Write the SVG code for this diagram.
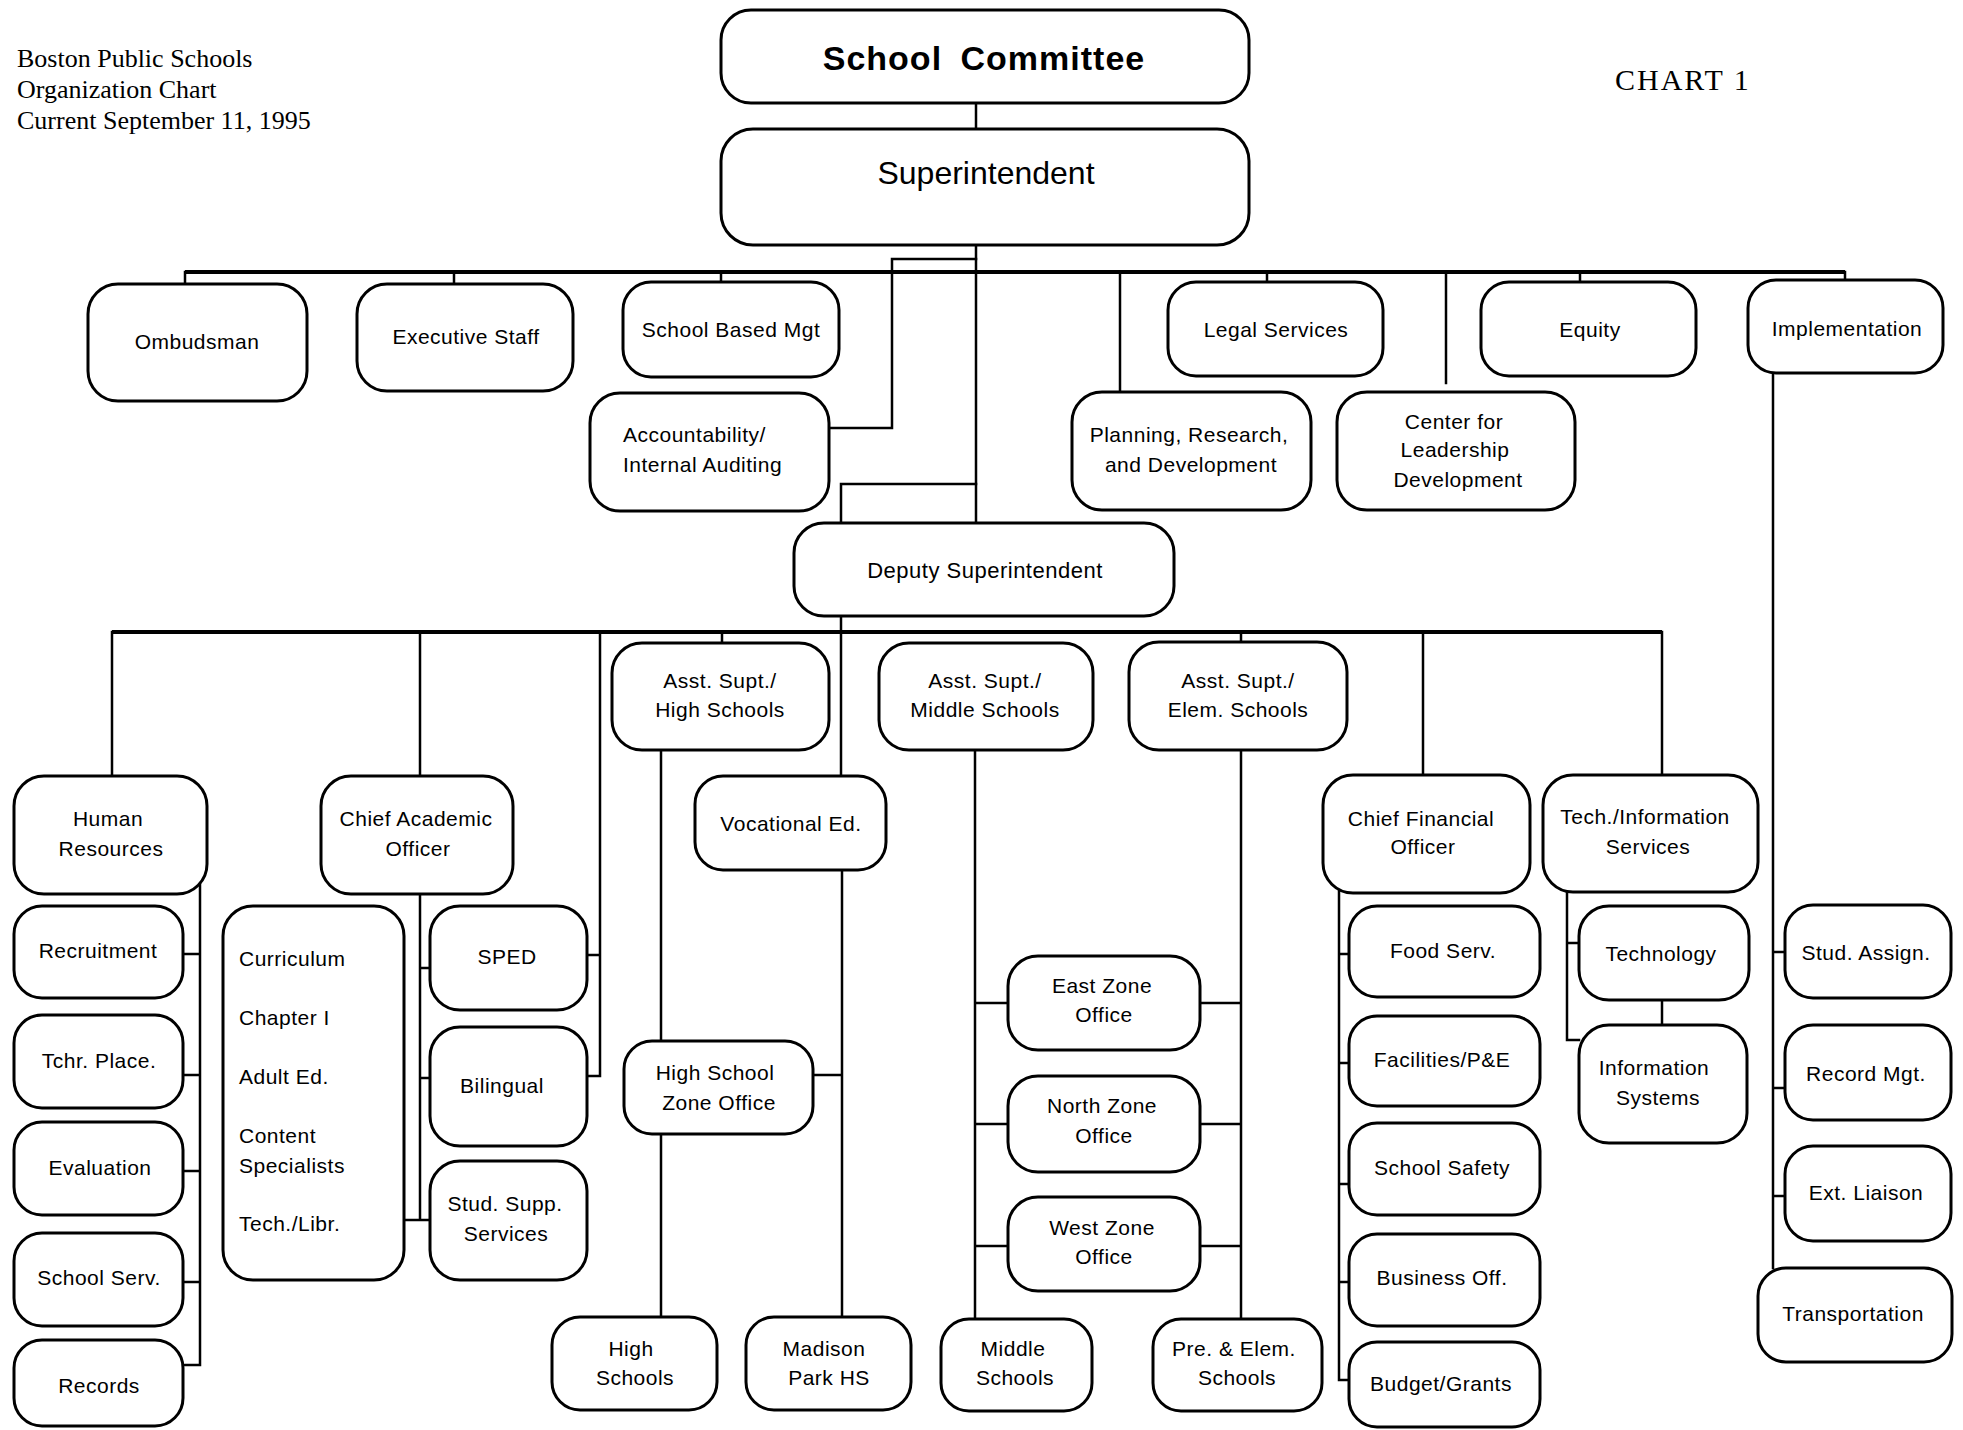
<svg xmlns="http://www.w3.org/2000/svg" width="1963" height="1430" viewBox="0 0 1963 1430">
  <style>
    .box { fill: #fff; stroke: #000; stroke-width: 3; }
    .ln { stroke: #000; stroke-width: 2.5; fill: none; stroke-linecap: square; }
    .bus { stroke: #000; stroke-width: 4; fill: none; }
    .t { font-family: "Liberation Sans", Arial, sans-serif; font-size: 21px; letter-spacing: 0.5px; text-anchor: middle; fill: #000; }
    .tl { font-family: "Liberation Sans", Arial, sans-serif; font-size: 21px; letter-spacing: 0.5px; text-anchor: start; fill: #000; }
    .hdr { font-family: "Liberation Serif", "Times New Roman", serif; font-size: 26px; fill: #000; }
  </style>
  <rect x="0" y="0" width="1963" height="1430" fill="#fff"/>

  <!-- title block -->
  <g id="title">
    <text class="hdr" x="17" y="67">Boston Public Schools</text>
    <text class="hdr" x="17" y="98">Organization Chart</text>
    <text class="hdr" x="17" y="129">Current September 11, 1995</text>
    <text class="hdr" x="1615" y="90" style="font-size:30px;letter-spacing:2px">CHART 1</text>
  </g>

  <!-- connectors -->
  <g id="connectors">
    <!-- top level -->
    <path class="ln" d="M976 103 V129"/>
    <path class="ln" d="M976 245 V523"/>
    <path class="ln" d="M976 259 H892 V428 H829"/>
    <path class="bus" d="M185 272 H1845"/>
    <path class="ln" d="M185 272 V284 M454 272 V284 M721 272 V282 M1267 272 V282 M1580 272 V282 M1845 272 V280"/>
    <path class="ln" d="M1120 272 V392"/>
    <path class="ln" d="M1446 272 V383"/>
    <path class="ln" d="M976 484 H841 V523"/>
    <!-- deputy level -->
    <path class="ln" d="M841 616 V776"/>
    <path class="bus" d="M112 632 H1662"/>
    <path class="ln" d="M112 632 V776 M420 632 V776 M722 632 V643 M1241 632 V642 M1423 632 V775 M1662 632 V775"/>
    <path class="ln" d="M600 632 V1076 H587 M600 955 H587"/>
    <!-- human resources -->
    <path class="ln" d="M200 884 V1365 H183 M183 954 H200 M183 1075 H200 M183 1171 H200 M183 1282 H200"/>
    <!-- chief academic officer -->
    <path class="ln" d="M420 894 V1220 M420 968 H430 M420 1078 H430 M404 1220 H430"/>
    <!-- high schools -->
    <path class="ln" d="M661 750 V1041 M661 1134 V1317"/>
    <path class="ln" d="M842 870 V1317 M813 1075 H842"/>
    <!-- middle schools -->
    <path class="ln" d="M975 750 V1319 M975 1003 H1008 M975 1124 H1008 M975 1246 H1008"/>
    <!-- elementary schools -->
    <path class="ln" d="M1241 750 V1319 M1200 1003 H1241 M1200 1124 H1241 M1200 1246 H1241"/>
    <!-- chief financial officer -->
    <path class="ln" d="M1339 888 V1380 H1349 M1339 954 H1349 M1339 1063 H1349 M1339 1184 H1349 M1339 1282 H1349"/>
    <!-- tech / information services -->
    <path class="ln" d="M1567 888 V1040 H1579 M1567 943 H1579"/>
    <path class="ln" d="M1662 1000 V1025"/>
    <!-- implementation -->
    <path class="ln" d="M1773 373 V1268 M1773 952 H1785 M1773 1088 H1785 M1773 1196 H1785"/>
  </g>

  <!-- top level -->
  <g id="school-committee">
    <rect class="box" x="721" y="10" width="528" height="93" rx="30"/>
    <text x="984" y="70" style="font-family:'Liberation Sans',Arial,sans-serif;font-size:34px;font-weight:bold;letter-spacing:1px;word-spacing:8px;text-anchor:middle">School Committee</text>
  </g>
  <g id="superintendent">
    <rect class="box" x="721" y="129" width="528" height="116" rx="32"/>
    <text class="t" x="986" y="184" style="font-size:32px;letter-spacing:0">Superintendent</text>
  </g>
  <g id="ombudsman">
    <rect class="box" x="88" y="284" width="219" height="117" rx="30"/>
    <text class="t" x="197" y="349">Ombudsman</text>
  </g>
  <g id="executive-staff">
    <rect class="box" x="357" y="284" width="216" height="107" rx="30"/>
    <text class="t" x="466" y="344">Executive Staff</text>
  </g>
  <g id="school-based-mgt">
    <rect class="box" x="623" y="282" width="216" height="95" rx="28"/>
    <text class="t" x="731" y="337">School Based Mgt</text>
  </g>
  <g id="legal-services">
    <rect class="box" x="1168" y="282" width="215" height="94" rx="28"/>
    <text class="t" x="1276" y="337">Legal Services</text>
  </g>
  <g id="equity">
    <rect class="box" x="1481" y="282" width="215" height="94" rx="28"/>
    <text class="t" x="1590" y="337">Equity</text>
  </g>
  <g id="implementation">
    <rect class="box" x="1748" y="280" width="195" height="93" rx="28"/>
    <text class="t" x="1847" y="336">Implementation</text>
  </g>
  <g id="accountability">
    <rect class="box" x="590" y="393" width="239" height="118" rx="30"/>
    <text class="tl" x="623" y="442">Accountability/</text>
    <text class="tl" x="623" y="472">Internal Auditing</text>
  </g>
  <g id="planning">
    <rect class="box" x="1072" y="392" width="239" height="118" rx="30"/>
    <text class="t" x="1189" y="442">Planning, Research,</text>
    <text class="t" x="1191" y="472">and Development</text>
  </g>
  <g id="leadership-center">
    <rect class="box" x="1337" y="392" width="238" height="118" rx="30"/>
    <text class="t" x="1454" y="429">Center for</text>
    <text class="t" x="1455" y="457">Leadership</text>
    <text class="t" x="1458" y="487">Development</text>
  </g>

  <!-- deputy level -->
  <g id="deputy-superintendent">
    <rect class="box" x="794" y="523" width="380" height="93" rx="30"/>
    <text class="t" x="985" y="578" style="font-size:22px">Deputy Superintendent</text>
  </g>
  <g id="asst-supt-high">
    <rect class="box" x="612" y="643" width="217" height="107" rx="30"/>
    <text class="t" x="720" y="688">Asst. Supt./</text>
    <text class="t" x="720" y="717">High Schools</text>
  </g>
  <g id="asst-supt-middle">
    <rect class="box" x="879" y="643" width="214" height="107" rx="30"/>
    <text class="t" x="985" y="688">Asst. Supt./</text>
    <text class="t" x="985" y="717">Middle Schools</text>
  </g>
  <g id="asst-supt-elem">
    <rect class="box" x="1129" y="642" width="218" height="108" rx="30"/>
    <text class="t" x="1238" y="688">Asst. Supt./</text>
    <text class="t" x="1238" y="717">Elem. Schools</text>
  </g>
  <g id="human-resources">
    <rect class="box" x="14" y="776" width="193" height="118" rx="30"/>
    <text class="t" x="108" y="826">Human</text>
    <text class="t" x="111" y="856">Resources</text>
  </g>
  <g id="chief-academic-officer">
    <rect class="box" x="321" y="776" width="192" height="118" rx="30"/>
    <text class="t" x="416" y="826">Chief Academic</text>
    <text class="t" x="418" y="856">Officer</text>
  </g>
  <g id="vocational-ed">
    <rect class="box" x="695" y="776" width="191" height="94" rx="28"/>
    <text class="t" x="791" y="831">Vocational Ed.</text>
  </g>
  <g id="chief-financial-officer">
    <rect class="box" x="1323" y="775" width="207" height="118" rx="30"/>
    <text class="t" x="1421" y="826">Chief Financial</text>
    <text class="t" x="1423" y="854">Officer</text>
  </g>
  <g id="tech-information-services">
    <rect class="box" x="1543" y="775" width="215" height="117" rx="30"/>
    <text class="t" x="1645" y="824">Tech./Information</text>
    <text class="t" x="1648" y="854">Services</text>
  </g>

  <!-- human resources units -->
  <g id="recruitment">
    <rect class="box" x="14" y="906" width="169" height="92" rx="28"/>
    <text class="t" x="98" y="958">Recruitment</text>
  </g>
  <g id="teacher-placement">
    <rect class="box" x="14" y="1015" width="169" height="93" rx="28"/>
    <text class="t" x="99" y="1068">Tchr. Place.</text>
  </g>
  <g id="evaluation">
    <rect class="box" x="14" y="1122" width="169" height="93" rx="28"/>
    <text class="t" x="100" y="1175">Evaluation</text>
  </g>
  <g id="school-services">
    <rect class="box" x="14" y="1233" width="169" height="93" rx="28"/>
    <text class="t" x="99" y="1285">School Serv.</text>
  </g>
  <g id="records">
    <rect class="box" x="14" y="1340" width="169" height="86" rx="28"/>
    <text class="t" x="99" y="1393">Records</text>
  </g>

  <!-- academic units -->
  <g id="curriculum-group">
    <rect class="box" x="223" y="906" width="181" height="374" rx="30"/>
    <text class="tl" x="239" y="966">Curriculum</text>
    <text class="tl" x="239" y="1025">Chapter I</text>
    <text class="tl" x="239" y="1084">Adult Ed.</text>
    <text class="tl" x="239" y="1143">Content</text>
    <text class="tl" x="239" y="1173">Specialists</text>
    <text class="tl" x="239" y="1231">Tech./Libr.</text>
  </g>
  <g id="sped">
    <rect class="box" x="430" y="906" width="157" height="104" rx="30"/>
    <text class="t" x="507" y="964">SPED</text>
  </g>
  <g id="bilingual">
    <rect class="box" x="430" y="1027" width="157" height="119" rx="30"/>
    <text class="t" x="502" y="1093">Bilingual</text>
  </g>
  <g id="student-support-services">
    <rect class="box" x="430" y="1161" width="157" height="119" rx="30"/>
    <text class="t" x="505" y="1211">Stud. Supp.</text>
    <text class="t" x="506" y="1241">Services</text>
  </g>

  <!-- high schools -->
  <g id="hs-zone-office">
    <rect class="box" x="624" y="1041" width="189" height="93" rx="28"/>
    <text class="t" x="715" y="1080">High School</text>
    <text class="t" x="719" y="1110">Zone Office</text>
  </g>
  <g id="high-schools">
    <rect class="box" x="552" y="1317" width="165" height="93" rx="28"/>
    <text class="t" x="631" y="1356">High</text>
    <text class="t" x="635" y="1385">Schools</text>
  </g>
  <g id="madison-park">
    <rect class="box" x="746" y="1317" width="165" height="93" rx="28"/>
    <text class="t" x="824" y="1356">Madison</text>
    <text class="t" x="829" y="1385">Park HS</text>
  </g>

  <!-- middle / elementary -->
  <g id="middle-schools">
    <rect class="box" x="941" y="1319" width="151" height="92" rx="28"/>
    <text class="t" x="1013" y="1356">Middle</text>
    <text class="t" x="1015" y="1385">Schools</text>
  </g>
  <g id="pre-elem-schools">
    <rect class="box" x="1153" y="1319" width="169" height="92" rx="28"/>
    <text class="t" x="1234" y="1356">Pre. &amp; Elem.</text>
    <text class="t" x="1237" y="1385">Schools</text>
  </g>
  <g id="east-zone">
    <rect class="box" x="1008" y="956" width="192" height="94" rx="30"/>
    <text class="t" x="1102" y="993">East Zone</text>
    <text class="t" x="1104" y="1022">Office</text>
  </g>
  <g id="north-zone">
    <rect class="box" x="1008" y="1076" width="192" height="96" rx="30"/>
    <text class="t" x="1102" y="1113">North Zone</text>
    <text class="t" x="1104" y="1143">Office</text>
  </g>
  <g id="west-zone">
    <rect class="box" x="1008" y="1197" width="192" height="94" rx="30"/>
    <text class="t" x="1102" y="1235">West Zone</text>
    <text class="t" x="1104" y="1264">Office</text>
  </g>

  <!-- finance units -->
  <g id="food-services">
    <rect class="box" x="1349" y="906" width="191" height="91" rx="28"/>
    <text class="t" x="1443" y="958">Food Serv.</text>
  </g>
  <g id="facilities">
    <rect class="box" x="1349" y="1016" width="191" height="90" rx="28"/>
    <text class="t" x="1442" y="1067">Facilities/P&amp;E</text>
  </g>
  <g id="school-safety">
    <rect class="box" x="1349" y="1123" width="191" height="92" rx="28"/>
    <text class="t" x="1442" y="1175">School Safety</text>
  </g>
  <g id="business-office">
    <rect class="box" x="1349" y="1234" width="191" height="92" rx="28"/>
    <text class="t" x="1442" y="1285">Business Off.</text>
  </g>
  <g id="budget-grants">
    <rect class="box" x="1349" y="1342" width="191" height="85" rx="28"/>
    <text class="t" x="1441" y="1391">Budget/Grants</text>
  </g>

  <!-- technology units -->
  <g id="technology">
    <rect class="box" x="1579" y="906" width="170" height="94" rx="30"/>
    <text class="t" x="1661" y="961">Technology</text>
  </g>
  <g id="information-systems">
    <rect class="box" x="1579" y="1025" width="168" height="118" rx="30"/>
    <text class="t" x="1654" y="1075">Information</text>
    <text class="t" x="1658" y="1105">Systems</text>
  </g>

  <!-- implementation units -->
  <g id="student-assignment">
    <rect class="box" x="1785" y="905" width="166" height="93" rx="28"/>
    <text class="t" x="1866" y="960">Stud. Assign.</text>
  </g>
  <g id="record-management">
    <rect class="box" x="1785" y="1025" width="166" height="95" rx="28"/>
    <text class="t" x="1866" y="1081">Record Mgt.</text>
  </g>
  <g id="external-liaison">
    <rect class="box" x="1785" y="1146" width="166" height="95" rx="28"/>
    <text class="t" x="1866" y="1200">Ext. Liaison</text>
  </g>
  <g id="transportation">
    <rect class="box" x="1758" y="1268" width="194" height="94" rx="28"/>
    <text class="t" x="1853" y="1321">Transportation</text>
  </g>
</svg>
